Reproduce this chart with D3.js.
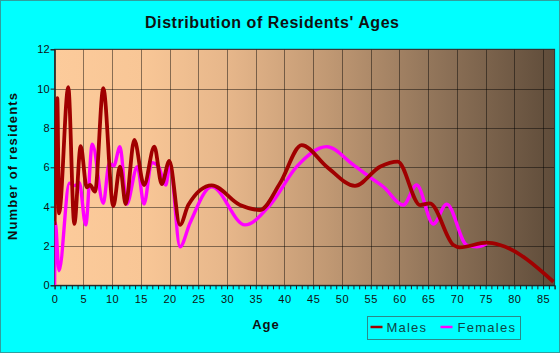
<!DOCTYPE html>
<html>
<head>
<meta charset="utf-8">
<script src="https://cdn.jsdelivr.net/npm/d3@7"></script>
<style>
html,body{margin:0;padding:0;background:#00ffff;}
svg{display:block;}
text{font-family:"Liberation Sans",Arial,sans-serif;}
</style>
</head>
<body>
<svg id="chart" width="560" height="353"></svg>
<script>
// ---- data ----
const maleAges   = [0, 0.47, 0.77, 2.38, 3.43, 4.54, 5.59, 6.16, 7.03, 8.47, 10.21, 11.38, 12.37, 13.87, 15.56, 17.35, 18.64, 19.96, 21.82, 23.26, 27.34, 32.26, 35.74, 39.22, 43.0, 47.35, 52.27, 56.62, 59.7, 63.6, 65.3, 69.4, 70.5, 75.2, 77.5, 86.8];
const maleValues = [3.07, 9.51, 3.66, 10.07, 3.12, 7.08, 4.98, 5.10, 4.76, 10.02, 4.03, 6.03, 4.13, 7.39, 5.10, 7.05, 5.15, 6.32, 3.07, 4.08, 5.08, 4.08, 3.83, 5.19, 7.13, 6.03, 5.06, 6.03, 6.29, 4.08, 4.17, 2.05, 1.93, 2.17, 2.05, 0.18];
const femaleAges   = [0, 0.12, 0.77, 2.56, 3.55, 4.30, 5.41, 6.56, 8.47, 9.5, 10.3, 11.38, 12.55, 14.39, 15.56, 16.9, 18.04, 19.33, 20.08, 21.82, 23.56, 27.34, 33.13, 37.48, 42.13, 47.35, 51.98, 54.88, 57.2, 60.68, 63.0, 65.9, 68.23, 71.7, 73.45, 75.2];
const femaleValues = [0, 3.2, 0.74, 5.19, 5.07, 5.22, 3.07, 7.18, 4.17, 6.2, 6.08, 7.05, 4.13, 6.03, 4.13, 6.24, 6.06, 5.10, 6.12, 1.96, 3.17, 5.01, 3.07, 4.08, 6.03, 7.05, 6.12, 5.49, 5.01, 4.08, 5.10, 3.12, 4.13, 2.05, 1.96, 2.12];
const xTickLabels = [0, 5, 10, 15, 20, 25, 30, 35, 40, 45, 50, 55, 60, 65, 70, 75, 80, 85];
const yTickLabels = [0, 2, 4, 6, 8, 10, 12];
const seriesNames = ["Males", "Females"];
const seriesColors = ["#a00000", "#ff00ff"];

const W = 560, H = 353;
const L = 54.6, R = 554.6, T = 49.3, B = 285.3;

const svg = d3.select("#chart");
const x = d3.scaleLinear().domain([0, 87]).range([L, R]);
const y = d3.scaleLinear().domain([0, 12]).range([B, T]);

// outer border
svg.append("rect").attr("x", 0.5).attr("y", 0.5).attr("width", W - 1).attr("height", H - 1)
  .attr("fill", "#00ffff").attr("stroke", "#2f9f9f");

// background gradient
const defs = svg.append("defs");
const grad = defs.append("linearGradient").attr("id", "bg").attr("x1", "0").attr("x2", "1").attr("y1", "0").attr("y2", "0");
[[0, "#fccb9b"], [0.18, "#f8c696"], [0.35, "#e6b68a"], [0.55, "#c09873"], [0.75, "#93765b"], [1, "#5f4c3a"]]
  .forEach(([o, c]) => grad.append("stop").attr("offset", o).attr("stop-color", c));
svg.append("rect").attr("x", L).attr("y", T).attr("width", R - L).attr("height", B - T).attr("fill", "url(#bg)");

// grid
const grid = svg.append("g").attr("stroke", "rgba(0,0,0,0.45)").attr("stroke-width", 1);
xTickLabels.forEach(v => grid.append("line").attr("x1", Math.round(x(v)) + 0.5).attr("x2", Math.round(x(v)) + 0.5).attr("y1", T).attr("y2", B));
yTickLabels.forEach(v => grid.append("line").attr("x1", L).attr("x2", R).attr("y1", Math.round(y(v)) + 0.5).attr("y2", Math.round(y(v)) + 0.5));

// plot border
svg.append("rect").attr("x", L).attr("y", T).attr("width", R - L).attr("height", B - T)
  .attr("fill", "none").attr("stroke", "#333").attr("stroke-width", 1);

// axes
const xAxis = d3.axisBottom(x).tickValues(d3.range(0, 88, 1)).tickSize(4)
  .tickFormat(d => xTickLabels.includes(d) ? d : "");
const gx = svg.append("g").attr("transform", `translate(0,${B})`).call(xAxis);
gx.select(".domain").attr("stroke", "#222");
gx.selectAll(".tick line").attr("stroke", "#222");
gx.selectAll(".tick text").attr("font-size", 11).attr("fill", "#111").attr("dy", "0.95em").attr("letter-spacing", "0.5px");

const yAxis = d3.axisLeft(y).tickValues(yTickLabels).tickSize(4);
const gy = svg.append("g").attr("transform", `translate(${L},0)`).call(yAxis);
gy.select(".domain").attr("stroke", "#222");
gy.selectAll(".tick line").attr("stroke", "#222");
gy.selectAll(".tick text").attr("font-size", 11).attr("fill", "#111").attr("x", -5);

// lines
const line = d3.line().x(d => x(d[0])).y(d => y(d[1])).curve(d3.curveMonotoneX);
const female = femaleAges.map((a, i) => [a, femaleValues[i]]);
const male = maleAges.map((a, i) => [a, maleValues[i]]);
const clip = defs.append("clipPath").attr("id", "clip");
clip.append("rect").attr("x", L).attr("y", T - 5).attr("width", R - L).attr("height", B - T + 5);
const plot = svg.append("g").attr("clip-path", "url(#clip)");
plot.append("path").datum(female).attr("d", line).attr("fill", "none")
  .attr("stroke", seriesColors[1]).attr("stroke-width", 3.4).attr("stroke-linejoin", "round");
plot.append("path").datum(male).attr("d", line).attr("fill", "none")
  .attr("stroke", seriesColors[0]).attr("stroke-width", 3.8).attr("stroke-linejoin", "round");

// title & labels
svg.append("text").attr("x", 272).attr("y", 28).attr("text-anchor", "middle")
  .attr("font-size", 16).attr("font-weight", "bold").attr("fill", "#111")
  .attr("textLength", 254).attr("lengthAdjust", "spacing")
  .text("Distribution of Residents' Ages");
svg.append("text").attr("x", 266).attr("y", 328.5).attr("text-anchor", "middle")
  .attr("font-size", 13).attr("font-weight", "bold").attr("fill", "#111")
  .attr("letter-spacing", "1px").text("Age");
svg.append("text").attr("transform", "translate(17,166.5) rotate(-90)").attr("text-anchor", "middle")
  .attr("font-size", 13).attr("font-weight", "bold").attr("fill", "#111")
  .attr("textLength", 147).attr("lengthAdjust", "spacing")
  .text("Number of residents");

// legend
const lg = svg.append("g");
lg.append("rect").attr("x", 367.5).attr("y", 316.5).attr("width", 153).attr("height", 23)
  .attr("fill", "none").attr("stroke", "#2a8a8a");
const legendItems = [{lx: 370.5, tx: 386.5, tw: 39.5}, {lx: 440.5, tx: 457.5, tw: 57.5}];
seriesNames.forEach((n, i) => {
  lg.append("line").attr("x1", legendItems[i].lx).attr("x2", legendItems[i].lx + 12)
    .attr("y1", 327).attr("y2", 327).attr("stroke", seriesColors[i]).attr("stroke-width", 2.5);
  lg.append("text").attr("x", legendItems[i].tx).attr("y", 332).attr("font-size", 13)
    .attr("fill", "#0e4545").attr("textLength", legendItems[i].tw).attr("lengthAdjust", "spacing").text(n);
});
</script>
</body>
</html>
